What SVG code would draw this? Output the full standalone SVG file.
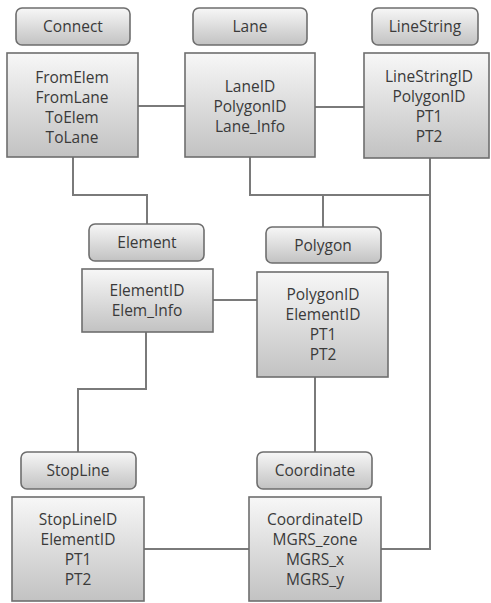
<svg xmlns="http://www.w3.org/2000/svg" width="491" height="603" viewBox="0 0 491 603">
<defs>
<linearGradient id="g" x1="0" y1="0" x2="0" y2="1">
<stop offset="0" stop-color="#f7f7f7"/>
<stop offset="1" stop-color="#c2c2c2"/>
</linearGradient>
<style>
.hdr{fill:url(#g);stroke:#6e6e6e;stroke-width:1.6}
.box{fill:url(#g);stroke:#6e6e6e;stroke-width:1.6}
text{font-family:"Open Sans","Noto Sans",sans-serif;font-size:15.5px;fill:#3a3a3a;text-anchor:middle}
.ln{fill:none;stroke:#7a7a7a;stroke-width:2}
</style>
</defs>
<rect width="491" height="603" fill="#ffffff"/>
<g id="connectors">
<path class="ln" d="M138,106 H185"/>
<path class="ln" d="M315,107 H364"/>
<path class="ln" d="M73,157 V195 H147 V224"/>
<path class="ln" d="M250,157 V195 H430"/>
<path class="ln" d="M323,195 V227"/>
<path class="ln" d="M430,158 V549 H381"/>
<path class="ln" d="M213,300 H257"/>
<path class="ln" d="M146,332 V389 H78 V452"/>
<path class="ln" d="M315,377 V452"/>
<path class="ln" d="M144,549 H249"/>
</g>
<g id="node-connect">
<rect class="hdr" x="16" y="8" width="114" height="37" rx="6"/>
<text x="73" y="32">Connect</text>
<rect class="box" x="7" y="53" width="131" height="104"/>
<text x="72" y="83">FromElem</text>
<text x="72" y="103">FromLane</text>
<text x="72" y="123">ToElem</text>
<text x="72" y="143">ToLane</text>
</g>
<g id="node-lane">
<rect class="hdr" x="193" y="8" width="114" height="37" rx="6"/>
<text x="250" y="32">Lane</text>
<rect class="box" x="185" y="53" width="130" height="104"/>
<text x="250" y="92">LaneID</text>
<text x="250" y="112">PolygonID</text>
<text x="250" y="132">Lane_Info</text>
</g>
<g id="node-linestring">
<rect class="hdr" x="372" y="8" width="106" height="37" rx="6"/>
<text x="425" y="32">LineString</text>
<rect class="box" x="364" y="53" width="125" height="105"/>
<text x="429" y="82">LineStringID</text>
<text x="429" y="102">PolygonID</text>
<text x="429" y="122">PT1</text>
<text x="429" y="142">PT2</text>
</g>
<g id="node-element">
<rect class="hdr" x="89" y="224" width="115" height="37" rx="6"/>
<text x="147" y="248">Element</text>
<rect class="box" x="82" y="269" width="131" height="63"/>
<text x="147" y="296">ElementID</text>
<text x="147" y="316">Elem_Info</text>
</g>
<g id="node-polygon">
<rect class="hdr" x="266" y="227" width="115" height="36" rx="6"/>
<text x="323" y="251">Polygon</text>
<rect class="box" x="257" y="272" width="131" height="105"/>
<text x="323" y="300">PolygonID</text>
<text x="323" y="320">ElementID</text>
<text x="323" y="340">PT1</text>
<text x="323" y="360">PT2</text>
</g>
<g id="node-stopline">
<rect class="hdr" x="21" y="452" width="115" height="37" rx="6"/>
<text x="78" y="476">StopLine</text>
<rect class="box" x="12" y="497" width="132" height="104"/>
<text x="78" y="525">StopLineID</text>
<text x="78" y="545">ElementID</text>
<text x="78" y="565">PT1</text>
<text x="78" y="585">PT2</text>
</g>
<g id="node-coordinate">
<rect class="hdr" x="257" y="452" width="115" height="37" rx="6"/>
<text x="315" y="476">Coordinate</text>
<rect class="box" x="249" y="497" width="132" height="104"/>
<text x="315" y="525">CoordinateID</text>
<text x="315" y="545">MGRS_zone</text>
<text x="315" y="565">MGRS_x</text>
<text x="315" y="585">MGRS_y</text>
</g>
</svg>
